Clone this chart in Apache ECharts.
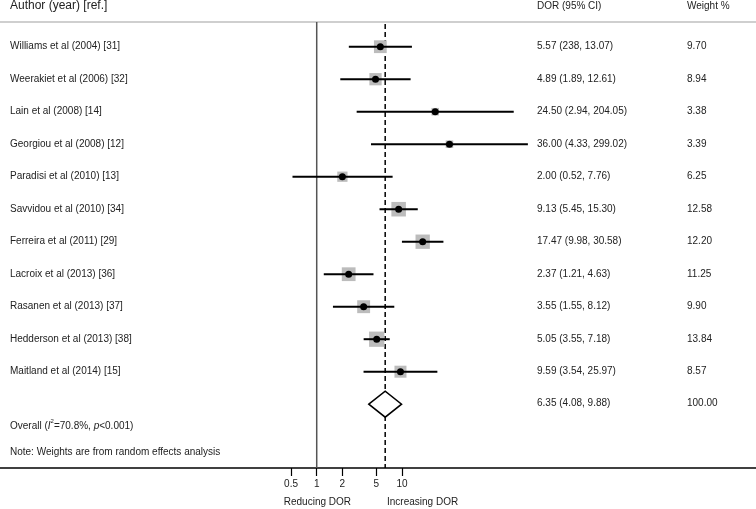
<!DOCTYPE html>
<html>
<head>
<meta charset="utf-8">
<script src="https://cdn.jsdelivr.net/npm/echarts@6/dist/echarts.min.js"></script>
<style>html,body{margin:0;padding:0;background:#fff}#c{width:756px;height:509px}</style>
</head>
<body>
<div id="c"></div>
<script>
// ---- data ----
const authors = ["Williams et al (2004) [31]","Weerakiet et al (2006) [32]","Lain et al (2008) [14]","Georgiou et al (2008) [12]","Paradisi et al (2010) [13]","Savvidou et al (2010) [34]","Ferreira et al (2011) [29]","Lacroix et al (2013) [36]","Rasanen et al (2013) [37]","Hedderson et al (2013) [38]","Maitland et al (2014) [15]"];
const dor    = [5.57, 4.89, 24.50, 36.00, 2.00, 9.13, 17.47, 2.37, 3.55, 5.05, 9.59];
const lower  = [2.38, 1.89, 2.94, 4.33, 0.52, 5.45, 9.98, 1.21, 1.55, 3.55, 3.54];
const upper  = [13.07, 12.61, 204.05, 299.02, 7.76, 15.30, 30.58, 4.63, 8.12, 7.18, 25.97];
const weights= [9.70, 8.94, 3.38, 3.39, 6.25, 12.58, 12.20, 11.25, 9.90, 13.84, 8.57];
const ciLabels = ["5.57 (238, 13.07)","4.89 (1.89, 12.61)","24.50 (2.94, 204.05)","36.00 (4.33, 299.02)","2.00 (0.52, 7.76)","9.13 (5.45, 15.30)","17.47 (9.98, 30.58)","2.37 (1.21, 4.63)","3.55 (1.55, 8.12)","5.05 (3.55, 7.18)","9.59 (3.54, 25.97)"];
const overallDor = 6.35, overallLower = 4.08, overallUpper = 9.88, overallWeight = 100.00;
const overallLabel = "6.35 (4.08, 9.88)";
const tickValues = [0.5, 1, 2, 5, 10];
const tickLabels = ["0.5", "1", "2", "5", "10"];

// ---- chart ----
const L = Math.log10;
const FONT = "'Liberation Sans', Arial, Helvetica, sans-serif";
const TXT = '#222';
const n = authors.length;
const chart = echarts.init(document.getElementById('c'), null, {renderer: 'canvas'});

const rows = authors.map((a, i) => i);

chart.setOption({
  animation: false,
  grid: {left: 0, right: 0, top: 0, bottom: 41},
  xAxis: {
    type: 'value', min: -3.713, max: 5.150,
    splitLine: {show: false},
    axisLine: {show: true, onZero: false, lineStyle: {color: '#000', width: 1.5}},
    axisTick: {show: true, length: 8, customValues: tickValues.map(L), lineStyle: {color: '#000', width: 1.2}},
    axisLabel: {
      show: true, customValues: tickValues.map(L), margin: 11,
      fontSize: 10, fontFamily: FONT, color: TXT,
      formatter: function (v) {
        let best = 0;
        tickValues.forEach((t, k) => { if (Math.abs(L(t) - v) < Math.abs(L(tickValues[best]) - v)) best = k; });
        return tickLabels[best];
      }
    }
  },
  yAxis: {type: 'value', inverse: true, min: -1.437, max: 12.963, show: false},
  graphic: [
    {type: 'line', shape: {x1: 0, y1: 22, x2: 756, y2: 22}, style: {stroke: '#cfcfcf', lineWidth: 2}},
    {type: 'text', left: 10, top: 0, style: {text: 'Author (year) [ref.]', font: '12px ' + FONT, fill: TXT}},
    {type: 'text', left: 537, top: 1, style: {text: 'DOR (95% CI)', font: '10px ' + FONT, fill: TXT}},
    {type: 'text', left: 687, top: 1, style: {text: 'Weight %', font: '10px ' + FONT, fill: TXT}},
    {type: 'text', left: 10, top: 447, style: {text: 'Note: Weights are from random effects analysis', font: '10px ' + FONT, fill: TXT}},
    {type: 'text', right: 756 - 351, top: 497, style: {text: 'Reducing DOR', font: '10px ' + FONT, fill: TXT}},
    {type: 'text', left: 387, top: 497, style: {text: 'Increasing DOR', font: '10px ' + FONT, fill: TXT}},
    {type: 'text', left: 10, top: 418, style: {
      text: '{a|Overall (}{i|I}{s|2}{a|=70.8%, }{i|p}{a|<0.001)}',
      rich: {
        a: {fontSize: 10, fontFamily: FONT, fill: TXT, lineHeight: 13, verticalAlign: 'bottom'},
        i: {fontSize: 10, fontFamily: FONT, fontStyle: 'italic', fill: TXT, lineHeight: 13, verticalAlign: 'bottom'},
        s: {fontSize: 6, fontFamily: FONT, fill: TXT, lineHeight: 7, verticalAlign: 'top'}
      }
    }}
  ],
  series: [
    { // reference lines (null effect and overall estimate)
      type: 'custom', silent: true, clip: false, z: 1,
      data: [[0, 0], [L(overallDor), 1]],
      renderItem: function (params, api) {
        const x = api.coord([api.value(0), 0])[0];
        const dashed = api.value(1) === 1;
        return {type: 'line', shape: {x1: x, y1: dashed ? 24 : 22, x2: x, y2: 468},
          style: dashed ? {stroke: '#000', lineWidth: 1.5, lineDash: [5, 3]} : {stroke: '#555', lineWidth: 1.5}};
      }
    },
    { // weight squares
      type: 'scatter', silent: true, z: 2,
      symbol: 'rect',
      data: rows.map(i => [L(dor[i]), i, weights[i]]),
      symbolSize: v => 4.1 * Math.sqrt(v[2]),
      itemStyle: {color: '#bcbcbc', opacity: 1}
    },
    { // confidence intervals
      type: 'custom', silent: true, clip: false, z: 3,
      data: rows.map(i => [L(lower[i]), L(upper[i]), i]),
      renderItem: function (params, api) {
        const a = api.coord([api.value(0), api.value(2)]);
        const b = api.coord([api.value(1), api.value(2)]);
        return {type: 'line', shape: {x1: a[0], y1: a[1], x2: b[0], y2: b[1]}, style: {stroke: '#000', lineWidth: 2}};
      }
    },
    { // point estimates
      type: 'scatter', silent: true, z: 4, symbol: 'circle', symbolSize: 7,
      data: rows.map(i => [L(dor[i]), i]),
      itemStyle: {color: '#000', opacity: 1}
    },
    { // overall diamond
      type: 'custom', silent: true, clip: false, z: 4,
      data: [[L(overallLower), L(overallDor), L(overallUpper), n]],
      renderItem: function (params, api) {
        const r = api.value(3);
        const pl = api.coord([api.value(0), r]);
        const pc = api.coord([api.value(1), r]);
        const pr = api.coord([api.value(2), r]);
        const h = 13;
        return {type: 'polygon', shape: {points: [[pl[0], pl[1]], [pc[0], pc[1] - h], [pr[0], pr[1]], [pc[0], pc[1] + h]]},
          style: {fill: '#fff', stroke: '#000', lineWidth: 1.5}};
      }
    },
    { // row texts
      type: 'custom', silent: true, clip: false, z: 5,
      data: rows.map(i => [i, i]).concat([[n, -1]]),
      renderItem: function (params, api) {
        const r = api.value(0);
        const k = api.value(1);
        const y = api.coord([0, r])[1];
        const kids = [];
        if (k >= 0) {
          kids.push({type: 'text', style: {text: authors[k], x: 10, y: y, verticalAlign: 'middle', font: '10px ' + FONT, fill: TXT}});
          kids.push({type: 'text', style: {text: ciLabels[k], x: 537, y: y, verticalAlign: 'middle', font: '10px ' + FONT, fill: TXT}});
          kids.push({type: 'text', style: {text: weights[k].toFixed(2), x: 687, y: y, verticalAlign: 'middle', font: '10px ' + FONT, fill: TXT}});
        } else {
          kids.push({type: 'text', style: {text: overallLabel, x: 537, y: y - 1, verticalAlign: 'middle', font: '10px ' + FONT, fill: TXT}});
          kids.push({type: 'text', style: {text: overallWeight.toFixed(2), x: 687, y: y - 1, verticalAlign: 'middle', font: '10px ' + FONT, fill: TXT}});
        }
        return {type: 'group', children: kids};
      }
    }
  ]
});
</script>
</body>
</html>
